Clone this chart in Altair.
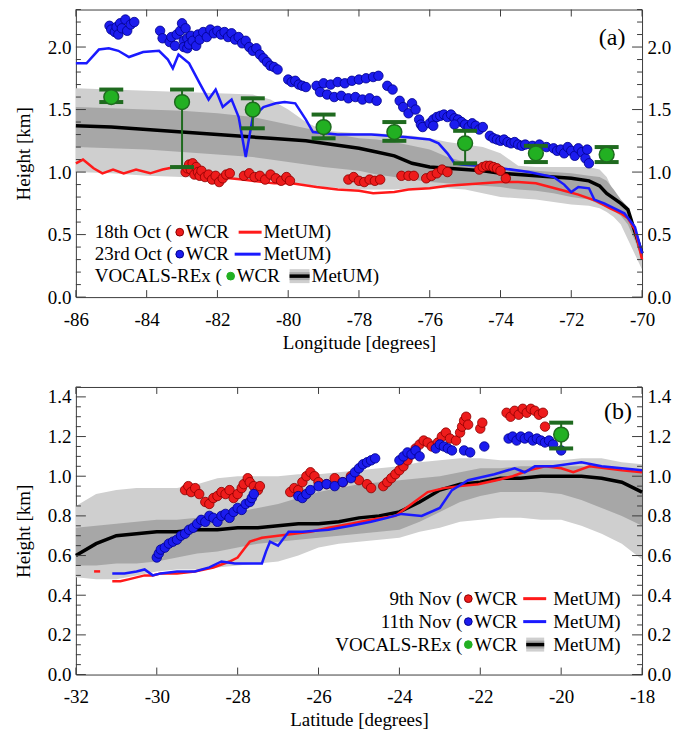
import altair as alt
import pandas as pd

FONT = "Liberation Serif"
W, H = 567, 288

LIGHT = "#cfcfcf"
DARK = "#a7a7a7"
RED = "#ff1a1a"
BLUE = "#1a1aff"
RED_DOT, RED_EDGE = "#ee1c1c", "#8a0000"
BLUE_DOT, BLUE_EDGE = "#1c1cee", "#00008a"
GREEN, GREEN_DK = "#22b022", "#1f6a1f"
FRAME = "#3c3c3c"

# ---------------- (a) October flights, along longitude ----------------
a_lon = [-86, -85, -84, -83, -82, -81, -80.5, -80, -79.5, -79, -78, -77.5, -77,
         -76.5, -76, -75.5, -75, -74.5, -74, -73.5, -73, -72.5, -72, -71.5,
         -71.2, -71, -70.8, -70.6, -70.4, -70.2, -70]
a_light_hi = [1.67, 1.66, 1.65, 1.64, 1.63, 1.62, 1.58, 1.50, 1.40, 1.33, 1.31,
              1.31, 1.30, 1.29, 1.27, 1.24, 1.22, 1.20, 1.15, 1.05, 1.04, 1.04,
              1.04, 1.04, 1.02, 0.96, 0.84, 0.74, 0.64, 0.52, 0.40]
a_dark_hi = [1.52, 1.51, 1.50, 1.49, 1.47, 1.44, 1.41, 1.38, 1.35, 1.32, 1.27,
             1.26, 1.24, 1.21, 1.18, 1.12, 1.08, 1.06, 1.04, 1.02, 1.01, 1.00,
             0.99, 0.97, 0.96, 0.93, 0.86, 0.78, 0.72, 0.56, 0.38]
a_median = [1.37, 1.36, 1.34, 1.32, 1.30, 1.28, 1.27, 1.26, 1.25, 1.23, 1.19,
            1.16, 1.13, 1.07, 1.04, 1.03, 1.02, 1.01, 0.99, 0.98, 0.97, 0.96,
            0.95, 0.93, 0.89, 0.83, 0.79, 0.75, 0.70, 0.52, 0.35]
a_dark_lo = [1.20, 1.19, 1.18, 1.16, 1.14, 1.12, 1.10, 1.08, 1.06, 1.04, 1.01,
             0.98, 0.96, 0.94, 0.92, 0.91, 0.90, 0.89, 0.88, 0.86, 0.85, 0.83,
             0.80, 0.78, 0.74, 0.72, 0.69, 0.65, 0.58, 0.45, 0.30]
a_light_lo = [1.00, 0.99, 0.97, 0.96, 0.95, 0.94, 0.93, 0.92, 0.90, 0.88, 0.86,
              0.86, 0.86, 0.87, 0.87, 0.87, 0.86, 0.83, 0.80, 0.79, 0.78, 0.76,
              0.74, 0.73, 0.71, 0.68, 0.64, 0.58, 0.46, 0.34, 0.22]

# 18th Oct MetUM
a_red_lon = [-86, -85.8, -85.5, -85.25, -84.95, -84.65, -84.3, -83.9, -83.55,
             -83.2, -82.8, -82.4, -82.0, -81.3, -80.4, -79.9, -79.2, -78.6,
             -78.0, -77.6, -77.0, -76.6, -76.0, -75.5, -75.0, -74.5, -74.0,
             -73.5, -73.0, -72.6, -72.2, -71.8, -71.3, -70.9, -70.6, -70.4,
             -70.2, -70.0]
a_red_h = [1.07, 1.10, 1.03, 0.99, 1.02, 0.99, 1.02, 0.99, 1.02, 1.04, 1.04,
           1.00, 0.96, 0.94, 0.91, 0.91, 0.88, 0.86, 0.85, 0.83, 0.84, 0.86,
           0.87, 0.89, 0.90, 0.91, 0.92, 0.92, 0.91, 0.88, 0.85, 0.82, 0.77,
           0.71, 0.67, 0.63, 0.54, 0.30]

# 23rd Oct MetUM
a_blue_lon = [-86, -85.7, -85.35, -85.07, -84.8, -84.5, -84.1, -83.65, -83.4,
              -83.26, -83.1, -82.8, -82.5, -82.25, -82.05, -81.85, -81.6, -81.4,
              -81.2, -81.0, -80.7, -80.35, -80.1, -79.8, -79.5, -79.3, -78.6,
              -77.65, -76.7, -76.0, -75.75, -75.5, -75.3, -75.1, -74.2, -73.2,
              -72.5, -72.2, -72.0, -71.8, -71.5, -71.35, -71.07, -70.5, -70.2,
              -70.0]
a_blue_h = [1.87, 1.87, 1.98, 1.99, 1.97, 1.92, 1.96, 1.97, 1.90, 1.83, 1.94,
            1.87, 1.71, 1.58, 1.66, 1.52, 1.58, 1.44, 1.12, 1.44, 1.52, 1.55,
            1.56, 1.55, 1.42, 1.32, 1.30, 1.30, 1.28, 1.26, 1.23, 1.15, 1.07,
            1.06, 1.04, 1.00, 0.96, 0.90, 0.84, 0.88, 0.87, 0.78, 0.75, 0.67,
            0.56, 0.35]

# 18th Oct WCR
a_rwcr_lon = [-82.9, -82.85, -82.8, -82.75, -82.7, -82.65, -82.6, -82.55, -82.5,
              -82.45, -82.35, -82.25, -82.15, -82.05, -81.95, -81.85, -81.75,
              -81.65, -81.25, -81.1, -80.95, -80.8, -80.65, -80.5, -80.35,
              -80.2, -80.05, -79.95, -78.3, -78.15, -78.0, -77.85, -77.7,
              -77.55, -77.4, -76.8, -76.6, -76.45, -76.1, -75.95, -75.8, -75.65,
              -75.5, -74.6, -74.5, -74.4, -74.3, -74.2, -74.1, -74.0, -73.85]
a_rwcr_h = [1.00, 1.03, 1.06, 1.02, 1.07, 0.98, 1.04, 1.00, 0.97, 1.01, 0.96,
            0.98, 0.94, 0.97, 0.92, 0.95, 0.98, 0.99, 0.97, 0.99, 0.96, 0.97,
            0.94, 0.98, 0.95, 0.93, 0.96, 0.93, 0.94, 0.96, 0.93, 0.92, 0.94,
            0.93, 0.94, 0.97, 0.97, 0.97, 0.95, 0.97, 0.99, 1.02, 1.00, 1.02,
            1.04, 1.05, 1.05, 1.04, 1.03, 1.01, 0.95]

# 23rd Oct WCR
a_bwcr_lon = [-85.05, -85.0, -84.9, -84.85, -84.8, -84.75, -84.7, -84.6, -84.55,
              -84.45, -84.35, -83.62, -83.55, -83.35, -83.3, -83.2, -83.15,
              -83.05, -83.0, -82.95, -82.9, -82.95, -82.85, -82.85, -82.8,
              -82.75, -82.7, -82.6, -82.55, -82.5, -82.4, -82.3, -82.2, -82.1,
              -82.0, -81.9, -81.8, -81.7, -81.6, -81.5, -81.4, -81.3, -81.2,
              -81.1, -81.0, -80.9, -80.8, -80.7, -80.6, -80.5, -80.4, -80.3,
              -80.0, -79.9, -79.8, -79.7, -79.6, -79.5,
              -79.2, -79.0, -78.8, -78.6, -78.4, -78.2, -78.0, -77.8, -77.6,
              -77.45, -79.1, -78.9, -78.7, -78.5, -78.3, -78.1, -77.9, -77.7,
              -77.5, -77.2, -77.05, -76.85, -76.75, -76.6, -76.5, -76.4, -76.3,
              -76.25, -76.2, -76.0, -75.9, -75.8, -75.7, -75.6, -75.5, -75.4,
              -75.3, -75.2, -75.1, -75.0, -74.9, -74.8, -74.7, -74.6, -74.5,
              -75.9, -75.3, -74.3, -74.2, -74.1, -74.0, -73.9, -73.8, -73.7,
              -73.6, -73.5, -73.4, -73.3, -73.1, -72.9, -72.7, -72.5, -72.4,
              -72.3, -72.2, -72.1, -72.0, -71.9, -71.8, -71.7, -71.6, -71.55,
              -71.5]
a_bwcr_h = [2.17, 2.14, 2.12, 2.16, 2.10, 2.19, 2.15, 2.22, 2.13, 2.18, 2.20,
            2.13, 2.07, 2.04, 2.08, 2.01, 2.10, 2.13, 2.19, 2.05, 2.15, 2.00,
            1.99, 2.07, 2.02, 2.09, 2.05, 2.01, 2.10, 2.06, 2.12, 2.08, 2.14,
            2.11, 2.13, 2.10, 2.12, 2.08, 2.11, 2.06, 2.08, 2.03, 2.05, 2.00,
            1.97, 1.99, 1.94, 1.91, 1.88, 1.85, 1.84, 1.82,
            1.74, 1.72, 1.73, 1.70, 1.69, 1.68,
            1.69, 1.71, 1.70, 1.72, 1.71, 1.73, 1.74, 1.75, 1.76, 1.77,
            1.64, 1.62, 1.60, 1.61, 1.59, 1.60, 1.58, 1.59, 1.57,
            1.69, 1.66, 1.57, 1.52, 1.47, 1.55, 1.50, 1.42, 1.38,
            1.36, 1.39, 1.42, 1.44, 1.45, 1.46, 1.44, 1.46, 1.43, 1.42, 1.40,
            1.38, 1.36, 1.39, 1.37, 1.34, 1.36,
            1.37, 1.38, 1.29, 1.27, 1.26, 1.25, 1.26, 1.24, 1.23, 1.24, 1.22,
            1.21, 1.22, 1.21, 1.22, 1.20, 1.19, 1.17, 1.18, 1.15, 1.20, 1.17,
            1.13, 1.19, 1.16, 1.11, 1.18, 1.07]

# VOCALS-REx WCR mean and range
a_g_lon = [-85, -83, -81, -79, -77, -75, -73, -71]
a_g_h = [1.60, 1.56, 1.50, 1.36, 1.32, 1.23, 1.15, 1.14]
a_g_lo = [1.56, 1.04, 1.35, 1.27, 1.25, 1.07, 1.08, 1.08]
a_g_hi = [1.66, 1.66, 1.59, 1.46, 1.40, 1.33, 1.21, 1.20]

# ---------------- (b) November flights, along latitude ----------------
b_lat = [-32, -31.5, -31, -30.5, -30, -29.5, -29, -28.5, -28, -27.5, -27,
         -26.5, -26, -25.5, -25, -24.5, -24, -23.5, -23, -22.5, -22, -21.5,
         -21, -20.5, -20, -19.5, -19, -18.5, -18]
b_light_hi = [0.85, 0.91, 0.93, 0.94, 0.94, 0.94, 0.96, 0.99, 1.00, 1.00, 1.00,
              1.01, 1.01, 1.02, 1.03, 1.04, 1.05, 1.07, 1.08, 1.09, 1.09, 1.08,
              1.08, 1.08, 1.08, 1.09, 1.09, 1.07, 1.06]
b_dark_hi = [0.74, 0.75, 0.76, 0.77, 0.78, 0.78, 0.79, 0.80, 0.82, 0.84, 0.86,
             0.89, 0.92, 0.94, 0.96, 0.97, 0.98, 0.99, 1.00, 1.02, 1.04, 1.04,
             1.05, 1.05, 1.05, 1.05, 1.04, 1.03, 1.02]
b_median = [0.60, 0.66, 0.70, 0.71, 0.72, 0.72, 0.73, 0.73, 0.74, 0.74, 0.75,
            0.76, 0.76, 0.77, 0.79, 0.80, 0.82, 0.87, 0.93, 0.96, 0.97, 0.99,
            0.99, 1.00, 1.00, 1.00, 0.99, 0.97, 0.92]
b_dark_lo = [0.55, 0.55, 0.56, 0.56, 0.57, 0.59, 0.61, 0.62, 0.64, 0.66, 0.67,
             0.68, 0.69, 0.70, 0.71, 0.72, 0.73, 0.77, 0.82, 0.87, 0.90, 0.92,
             0.92, 0.92, 0.91, 0.88, 0.84, 0.80, 0.75]
b_light_lo = [0.49, 0.48, 0.48, 0.50, 0.52, 0.53, 0.53, 0.54, 0.55, 0.56, 0.57,
              0.60, 0.64, 0.66, 0.67, 0.68, 0.69, 0.72, 0.74, 0.77, 0.78, 0.79,
              0.79, 0.78, 0.78, 0.75, 0.71, 0.66, 0.58]

# 9th Nov MetUM (short first piece, then the main track)
b_red1_lat = [-31.55, -31.4]
b_red1_h = [0.52, 0.52]
b_red_lat = [-31.1, -30.9, -30.7, -30.5, -30.3, -30.1, -29.9, -29.5, -29.06,
             -28.6, -28.2, -28.0, -27.85, -27.7, -27.4, -27.0, -26.6, -26.2,
             -25.75, -25.2, -24.7, -24.1, -23.7, -23.3, -22.9, -22.5, -22.05,
             -21.6, -21.2, -20.8, -20.4, -20.0, -19.7, -19.3, -18.9, -18.5, -18.0]
b_red_h = [0.47, 0.47, 0.48, 0.49, 0.50, 0.50, 0.51, 0.51, 0.52, 0.54, 0.57,
           0.59, 0.63, 0.67, 0.69, 0.70, 0.71, 0.72, 0.74, 0.76, 0.78, 0.80,
           0.86, 0.92, 0.94, 0.95, 0.96, 0.98, 1.00, 1.03, 1.05, 1.04, 1.02,
           1.05, 1.04, 1.03, 1.02]

# 11th Nov MetUM
b_blue_lat = [-31.1, -30.8, -30.5, -30.3, -30.1, -29.9, -29.5, -29.06, -28.7,
              -28.4, -28.07, -27.7, -27.4, -27.3, -27.2, -27.0, -26.74, -26.4,
              -25.75, -25.2, -24.7, -24.3, -23.95, -23.45, -23.0, -22.7, -22.3,
              -21.65, -21.15, -20.9, -20.65, -20.2, -19.5, -19.0, -18.5, -18.0]
b_blue_h = [0.51, 0.51, 0.52, 0.53, 0.50, 0.51, 0.52, 0.52, 0.54, 0.57, 0.56,
            0.56, 0.56, 0.62, 0.67, 0.65, 0.72, 0.72, 0.73, 0.75, 0.77, 0.79,
            0.81, 0.80, 0.84, 0.93, 0.98, 1.01, 1.04, 1.02, 1.05, 1.05, 1.07,
            1.05, 1.04, 1.03]

# 9th Nov WCR
b_rwcr_lat = [-29.3, -29.22, -29.15, -29.05, -28.95,
              -28.8, -28.7, -28.6, -28.5, -28.4, -28.3, -28.2, -28.1, -28.0,
              -27.9, -27.85, -27.75, -27.7, -27.6, -27.5, -27.45,
              -26.7, -26.6, -26.5, -26.4, -26.3, -26.2, -26.1, -26.0, -25.8,
              -25.6, -25.4, -25.2, -25.0, -24.8, -24.7,
              -24.4, -24.3, -24.2, -24.1, -24.0, -23.9, -23.8, -23.7, -23.6,
              -23.5, -23.4, -23.3, -23.2, -23.05, -22.95, -22.85, -22.75,
              -22.6, -22.5, -22.45, -22.4, -22.35, -22.3, -22.0, -21.95,
              -21.35, -21.25, -21.15, -21.05, -20.95, -20.85, -20.75, -20.65,
              -20.55, -20.45, -20.4]
b_rwcr_h = [0.93, 0.95, 0.92, 0.94, 0.91,
            0.87, 0.86, 0.89, 0.90, 0.92, 0.91, 0.93, 0.89, 0.91, 0.94, 0.96,
            0.99, 0.97, 0.95, 0.93, 0.95,
            0.92, 0.94, 0.93, 0.97, 1.00, 1.02, 1.00, 0.97, 0.96, 0.99, 0.97,
            1.00, 0.98, 0.96, 0.94,
            0.95, 0.97, 0.99, 1.01, 1.03, 1.05, 1.08, 1.11, 1.14, 1.16, 1.18,
            1.17, 1.15, 1.17, 1.20, 1.22, 1.19, 1.18, 1.22, 1.25, 1.28, 1.30,
            1.26, 1.24, 1.27,
            1.32, 1.30, 1.33, 1.31, 1.34, 1.32, 1.34, 1.33, 1.31, 1.32, 1.25]

# 11th Nov WCR
b_bwcr_lat = [-30.0, -29.95, -29.9, -29.8, -29.7, -29.6, -29.5, -29.4, -29.3,
              -29.2, -29.1, -29.0, -28.9, -28.8, -28.7, -28.6, -28.5, -28.4,
              -28.3, -28.2, -28.1, -28.0, -27.9, -27.8, -27.7, -27.65, -27.6,
              -26.5, -26.4, -26.3, -26.2, -26.0, -25.8, -25.6, -25.4, -25.2,
              -25.1, -25.0, -24.9, -24.8, -24.7, -24.6,
              -24.0, -23.9, -23.8, -23.7, -23.6, -23.5,
              -23.1, -23.0, -22.9, -22.8, -22.7, -22.4, -22.25, -21.9,
              -21.3, -21.2, -21.1, -21.0, -20.9, -20.8, -20.7, -20.6, -20.5,
              -20.4, -20.3, -20.2, -20.0]
b_bwcr_h = [0.59, 0.61, 0.63, 0.64, 0.66, 0.67, 0.68, 0.70, 0.71, 0.73, 0.74,
            0.76, 0.78, 0.77, 0.80, 0.79, 0.77, 0.80, 0.81, 0.79, 0.82, 0.84,
            0.83, 0.86, 0.87, 0.89, 0.91,
            0.90, 0.89, 0.91, 0.93, 0.95, 0.96, 0.95, 0.97, 0.99, 1.02, 1.04,
            1.06, 1.07, 1.08, 1.09,
            1.08, 1.10, 1.12, 1.11, 1.13, 1.10,
            1.14, 1.16, 1.15, 1.14, 1.13, 1.13, 1.12, 1.15,
            1.19, 1.20, 1.18, 1.20, 1.19, 1.20, 1.18, 1.19, 1.18, 1.17, 1.18,
            1.16, 1.13]

b_g_lat = [-20]
b_g_h = [1.21]
b_g_lo = [1.14]
b_g_hi = [1.27]

ONE = pd.DataFrame({"k": [0]})
FONT_AX = dict(labelFont=FONT, titleFont=FONT, labelFontSize=19,
               titleFontSize=19, titleFontWeight="normal",
               labelColor="black", titleColor="black")


def xy(xs, ys):
    return pd.DataFrame({"x": xs, "y": ys})


def txt(s, px, py, align="left", size=19):
    return alt.Chart(ONE).mark_text(
        text=s, align=align, baseline="middle", font=FONT, fontSize=size,
        color="black").encode(x=alt.value(px), y=alt.value(py))


def dot(px, py, fill, edge, size=60):
    return alt.Chart(ONE).mark_point(
        shape="circle", filled=True, fill=fill, stroke=edge, strokeWidth=1,
        size=size, opacity=1).encode(x=alt.value(px), y=alt.value(py))


def seg(x1, x2, py, color, width=3):
    return alt.Chart(ONE).mark_rule(color=color, strokeWidth=width).encode(
        x=alt.value(x1), x2=alt.value(x2), y=alt.value(py))


def box(x1, x2, y1, y2, color):
    return alt.Chart(ONE).mark_rect(color=color).encode(
        x=alt.value(x1), x2=alt.value(x2), y=alt.value(y1), y2=alt.value(y2))


def swatch(x1, x2, py):
    return [box(x1, x2, py - 7, py + 7, LIGHT), box(x1, x2, py - 4, py + 4, DARK),
            seg(x1, x2, py, "black", 3.5)]


def panel(xdom, ydom, xtitle, xmajor, ymajor, yminor, bands, lines, dots,
          green, tag, tagpos, legend):
    xs = alt.Scale(domain=xdom, nice=False, zero=False)
    ys = alt.Scale(domain=ydom, nice=False, zero=False)
    X = alt.X("x:Q", scale=xs, axis=None)
    Y = alt.Y("y:Q", scale=ys, axis=None)

    layers = [
        alt.Chart(bands).mark_area(color=LIGHT, opacity=1).encode(
            x=X, y=alt.Y("light_lo:Q", scale=ys, axis=None), y2="light_hi:Q"),
        alt.Chart(bands).mark_area(color=DARK, opacity=1).encode(
            x=X, y=alt.Y("dark_lo:Q", scale=ys, axis=None), y2="dark_hi:Q"),
        alt.Chart(bands).mark_line(color="black", strokeWidth=3.5).encode(
            x=X, y=alt.Y("median:Q", scale=ys, axis=None)),
    ]
    for df, color in lines:
        layers.append(alt.Chart(df).mark_line(color=color, strokeWidth=2.5)
                      .encode(x=X, y=Y))
    for df, fill, edge in dots:
        layers.append(alt.Chart(df).mark_point(
            shape="circle", filled=True, fill=fill, stroke=edge, strokeWidth=0.8,
            size=90, opacity=1).encode(x=X, y=Y))

    layers += [
        alt.Chart(green).mark_rule(color=GREEN_DK, strokeWidth=2).encode(
            x=X, y=alt.Y("lo:Q", scale=ys, axis=None), y2="hi:Q"),
        alt.Chart(green).mark_tick(color=GREEN_DK, orient="horizontal",
                                   size=24, thickness=4, opacity=1).encode(
            x=X, y=alt.Y("lo:Q", scale=ys, axis=None)),
        alt.Chart(green).mark_tick(color=GREEN_DK, orient="horizontal",
                                   size=24, thickness=4, opacity=1).encode(
            x=X, y=alt.Y("hi:Q", scale=ys, axis=None)),
        alt.Chart(green).mark_point(
            shape="circle", filled=True, fill=GREEN, stroke=GREEN_DK,
            strokeWidth=1.5, size=220, opacity=1).encode(x=X, y=Y),
    ]

    ymaj = pd.DataFrame({"v": ymajor})
    ymin = pd.DataFrame({"v": yminor})
    xmaj = pd.DataFrame({"v": xmajor})
    yaxis_common = dict(values=ymajor, format=".1f", labelPadding=5,
                        labelFlush=False, labelOverlap=False, **FONT_AX)
    layers += [
        alt.Chart(ymaj).mark_rule(color=FRAME).encode(
            y=alt.Y("v:Q", scale=ys, axis=alt.Axis(
                orient="left", title="Height [km]", titlePadding=14,
                **yaxis_common)),
            x=alt.value(0), x2=alt.value(10)),
        alt.Chart(ymaj).mark_rule(color=FRAME).encode(
            y=alt.Y("v:Q", scale=ys, axis=alt.Axis(
                orient="right", title=None, **yaxis_common)),
            x=alt.value(W), x2=alt.value(W - 10)),
        alt.Chart(ymin).mark_rule(color=FRAME).encode(
            y=alt.Y("v:Q", scale=ys, axis=None), x=alt.value(0), x2=alt.value(5)),
        alt.Chart(ymin).mark_rule(color=FRAME).encode(
            y=alt.Y("v:Q", scale=ys, axis=None), x=alt.value(W),
            x2=alt.value(W - 5)),
        alt.Chart(xmaj).mark_rule(color=FRAME).encode(
            x=alt.X("v:Q", scale=xs, axis=alt.Axis(
                orient="bottom", values=xmajor, labelExpr="'' + datum.value",
                title=xtitle, labelPadding=13, titlePadding=4,
                labelFlush=False, labelOverlap=False, **FONT_AX)),
            y=alt.value(H), y2=alt.value(H - 7)),
        alt.Chart(xmaj).mark_rule(color=FRAME).encode(
            x=alt.X("v:Q", scale=xs, axis=None), y=alt.value(0), y2=alt.value(7)),
        txt(tag, tagpos[0], tagpos[1], align="center", size=24),
    ]
    layers += legend
    return alt.layer(*layers).resolve_axis(x="independent", y="independent") \
        .properties(width=W, height=H)


bands_a = pd.DataFrame({"x": a_lon, "light_lo": a_light_lo, "light_hi": a_light_hi,
                        "dark_lo": a_dark_lo, "dark_hi": a_dark_hi,
                        "median": a_median})
bands_b = pd.DataFrame({"x": b_lat, "light_lo": b_light_lo, "light_hi": b_light_hi,
                        "dark_lo": b_dark_lo, "dark_hi": b_dark_hi,
                        "median": b_median})
green_a = pd.DataFrame({"x": a_g_lon, "y": a_g_h, "lo": a_g_lo, "hi": a_g_hi})
green_b = pd.DataFrame({"x": b_g_lat, "y": b_g_h, "lo": b_g_lo, "hi": b_g_hi})

# legend of panel (a): left aligned rows
legend_a = [
    txt("18th Oct (", 19, 223), dot(104, 223, RED_DOT, RED_EDGE),
    txt("WCR", 110, 223), seg(163, 186, 223, RED), txt("MetUM)", 188, 223),
    txt("23rd Oct (", 19, 245), dot(104, 245, BLUE_DOT, BLUE_EDGE),
    txt("WCR", 110, 245), seg(159, 185, 245, BLUE), txt("MetUM)", 188, 245),
    txt("VOCALS-REx (", 19, 267), dot(155, 267, GREEN, GREEN),
    txt("WCR", 161, 267), *swatch(214, 234, 267), txt("MetUM)", 236, 267),
]

# legend of panel (b): rows right aligned on the bracket
legend_b = [
    txt("9th Nov (", 387, 212, align="right"), dot(393, 212, RED_DOT, RED_EDGE),
    txt("WCR", 399, 212), seg(448, 471, 212, RED), txt("MetUM)", 478, 212),
    txt("11th Nov (", 387, 235, align="right"), dot(393, 235, BLUE_DOT, BLUE_EDGE),
    txt("WCR", 399, 235), seg(448, 471, 235, BLUE), txt("MetUM)", 478, 235),
    txt("VOCALS-REx (", 387, 258, align="right"), dot(393, 258, GREEN, GREEN),
    txt("WCR", 399, 258), *swatch(451, 469, 258), txt("MetUM)", 478, 258),
]

panel_a = panel(
    [-86, -70], [0, 2.3], "Longitude [degrees]", list(range(-86, -69, 2)),
    [0.0, 0.5, 1.0, 1.5, 2.0], [round(i * 0.1, 1) for i in range(1, 24) if i % 5],
    bands_a,
    [(xy(a_red_lon, a_red_h), RED), (xy(a_blue_lon, a_blue_h), BLUE)],
    [(xy(a_rwcr_lon, a_rwcr_h), RED_DOT, RED_EDGE),
     (xy(a_bwcr_lon, a_bwcr_h), BLUE_DOT, BLUE_EDGE)],
    green_a, "(a)", (537, 29), legend_a)

panel_b = panel(
    [-32, -18], [0, 1.45], "Latitude [degrees]", list(range(-32, -17, 2)),
    [round(i * 0.2, 1) for i in range(8)],
    [round(i * 0.05, 2) for i in range(1, 30) if i % 4],
    bands_b,
    [(xy(b_red1_lat, b_red1_h), RED), (xy(b_red_lat, b_red_h), RED),
     (xy(b_blue_lat, b_blue_h), BLUE)],
    [(xy(b_rwcr_lat, b_rwcr_h), RED_DOT, RED_EDGE),
     (xy(b_bwcr_lat, b_bwcr_h), BLUE_DOT, BLUE_EDGE)],
    green_b, "(b)", (543, 25), legend_b)

chart = alt.vconcat(panel_a, panel_b, spacing=90, bounds="flush").properties(
    padding={"left": 13, "top": 8, "right": 2, "bottom": 2}
).configure_view(stroke=FRAME, strokeWidth=1).configure_axis(
    domain=False, ticks=False, tickSize=0, grid=False, **FONT_AX
).configure_concat(spacing=90)

chart.save("out.html", embed_options={"renderer": "svg", "actions": False})
